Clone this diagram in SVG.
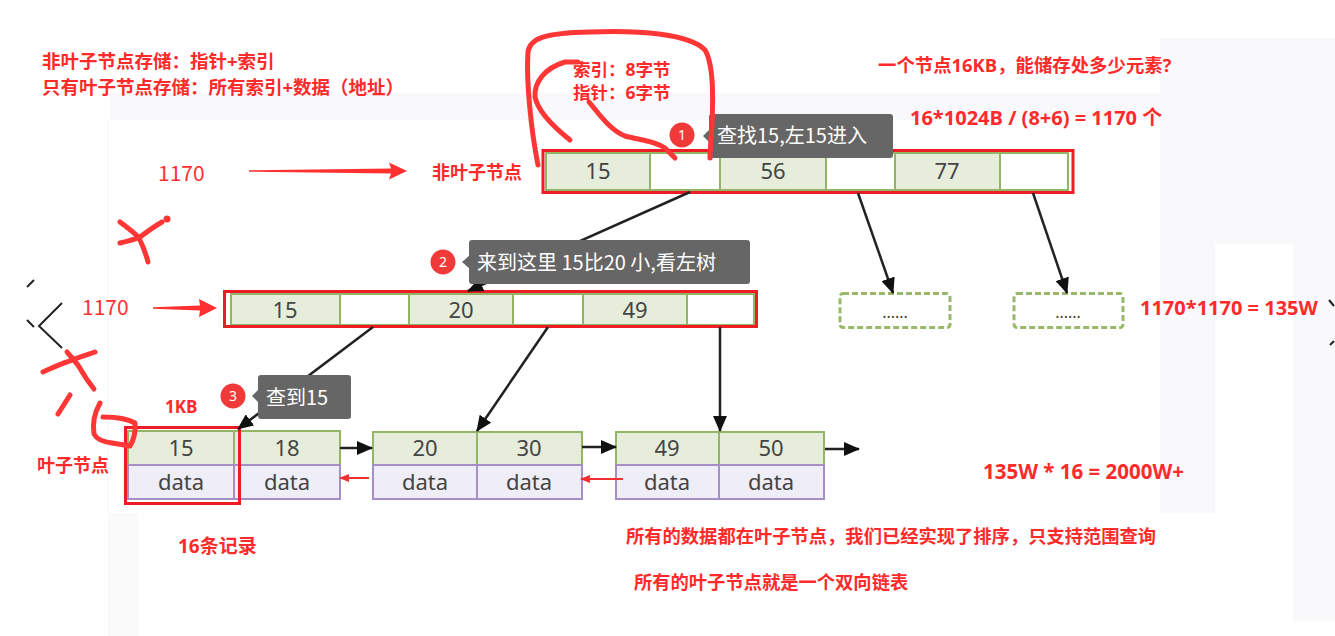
<svg xmlns="http://www.w3.org/2000/svg" width="1335" height="636" viewBox="0 0 1335 636">
  <defs>
    <style>
      .note { font-family: "Open Sans", "Noto Sans CJK SC", sans-serif; font-weight: bold; fill: #ff2a2a; font-size: 19px; }
      .num { font-family: "Noto Sans CJK SC", "Liberation Sans", sans-serif; fill: #ff3030; font-size: 21px; }
      .cell-key { fill: #e7eddb; stroke: #94b566; stroke-width: 2; }
      .cell-ptr { fill: #ffffff; stroke: #94b566; stroke-width: 2; }
      .cell-data { fill: #efedf5; stroke: #a58fc6; stroke-width: 2; }
      .frame { fill: none; stroke: #ee1c24; stroke-width: 3; }
      .val { font-family: "Noto Sans", "DejaVu Sans", sans-serif; fill: #444; font-size: 22px; text-anchor: middle; }
      .tip { fill: #666666; }
      .tip-text { font-family: "Noto Sans CJK SC", "Noto Sans", sans-serif; fill: #ffffff; font-size: 20px; }
      .badge { fill: #f03a3a; }
      .badge-text { font-family: "Noto Sans", "DejaVu Sans", sans-serif; fill: #fff; font-size: 14px; text-anchor: middle; }
      .edge { stroke: #222; stroke-width: 2.5; fill: none; marker-end: url(#head); }
      .back { stroke: #f03030; stroke-width: 2; fill: none; marker-end: url(#redhead); }
      .scribble { fill: none; stroke: #ff3636; stroke-width: 5; stroke-linecap: round; stroke-linejoin: round; }
      .dashed { fill: #fff; stroke: #9ab86a; stroke-width: 3; stroke-dasharray: 6 3; }
    </style>
    <marker id="head" markerUnits="userSpaceOnUse" markerWidth="16" markerHeight="14" refX="15" refY="7" orient="auto">
      <path d="M0,0 L16,7 L0,14 Z" fill="#111"/>
    </marker>
    <marker id="redhead" markerUnits="userSpaceOnUse" markerWidth="10" markerHeight="8" refX="9" refY="4" orient="auto">
      <path d="M0,0 L10,4 L0,8 Z" fill="#f03030"/>
    </marker>
  </defs>

  <!-- page background with faint panels -->
  <rect x="0" y="0" width="1335" height="636" fill="#ffffff"/>
  <rect x="110" y="93" width="1050" height="27" fill="#f9f9fb"/>
  <path d="M1160,38 H1335 V621 H1293 V244 H1215 V513 H1160 Z" fill="#f9f9fb"/>
  <rect x="108" y="513" width="30" height="123" fill="#fafafb"/>
  <line x1="108" y1="120" x2="108" y2="513" stroke="#f6f6f8" stroke-width="1"/>

  <!-- edge fragments -->
  <g stroke="#222" stroke-width="2" fill="none">
    <path d="M62,303 L39,326 L62,348"/>
    <path d="M27,287 L34,280"/>
    <path d="M27,320 L34,327"/>
    <path d="M1329,300 L1334,306"/>
    <path d="M1334,341 L1330,345"/>
  </g>

  <!-- notes -->
  <g id="notes">
    <text class="note" x="42" y="68" style="font-size:18.5px">非叶子节点存储：指针+索引</text>
    <text class="note" x="42" y="94" style="font-size:18.5px">只有叶子节点存储：所有索引+数据（地址）</text>
    <text class="note" x="573" y="76" style="font-size:17.5px">索引：8字节</text>
    <text class="note" x="573" y="99" style="font-size:17.5px">指针：6字节</text>
    <text class="note" x="878" y="72" style="font-size:18.4px">一个节点16KB，能储存处多少元素?</text>
    <text class="note" x="910" y="125" style="font-size:20px">16*1024B / (8+6) = 1170 个</text>
    <text class="note" x="432" y="179" style="font-size:18px">非叶子节点</text>
    <text class="note" x="1140" y="315" style="font-size:20px">1170*1170 = 135W</text>
    <text class="note" x="165" y="413" style="font-size:17px">1KB</text>
    <text class="note" x="37" y="472" style="font-size:18px">叶子节点</text>
    <text class="note" x="983" y="479" style="font-size:20.5px">135W * 16 = 2000W+</text>
    <text class="note" x="178" y="553">16条记录</text>
    <text class="note" x="626" y="543" style="font-size:18.3px">所有的数据都在叶子节点，我们已经实现了排序，只支持范围查询</text>
    <text class="note" x="634" y="589" style="font-size:18.3px">所有的叶子节点就是一个双向链表</text>
    <text class="num" x="158" y="181">1170</text>
    <text class="num" x="82" y="315">1170</text>
  </g>

  <!-- red pointer arrows -->
  <g id="red-arrows" fill="#ff3030">
    <polygon points="249,170.3 391,168.5 389,162.5 407,171 389,179.5 391,173.5 249,171.7"/>
    <polygon points="153,307.3 200,305.5 199,299 217,308 199,317 200,310.5 153,308.7"/>
  </g>

  <!-- root node -->
  <g id="root">
    <rect class="cell-key" x="546" y="153" width="104" height="37"/>
    <rect class="cell-ptr" x="650" y="153" width="70" height="37"/>
    <rect class="cell-key" x="720" y="153" width="106" height="37"/>
    <rect class="cell-ptr" x="826" y="153" width="69" height="37"/>
    <rect class="cell-key" x="895" y="153" width="105" height="37"/>
    <rect class="cell-ptr" x="1000" y="153" width="68" height="37"/>
    <rect class="frame" x="543" y="150.5" width="530" height="42"/>
    <text class="val" x="598" y="179">15</text>
    <text class="val" x="773" y="179">56</text>
    <text class="val" x="947" y="179">77</text>
  </g>

  <!-- second level node -->
  <g id="inner">
    <rect class="cell-key" x="231" y="294" width="109" height="31"/>
    <rect class="cell-ptr" x="340" y="294" width="69" height="31"/>
    <rect class="cell-key" x="409" y="294" width="104" height="31"/>
    <rect class="cell-ptr" x="513" y="294" width="70" height="31"/>
    <rect class="cell-key" x="583" y="294" width="104" height="31"/>
    <rect class="cell-ptr" x="687" y="294" width="67" height="31"/>
    <rect class="frame" x="224.5" y="291.5" width="532" height="35"/>
    <text class="val" x="285" y="318">15</text>
    <text class="val" x="461" y="318">20</text>
    <text class="val" x="635" y="318">49</text>
  </g>

  <!-- unexpanded siblings -->
  <g id="more-1">
    <rect class="dashed" x="840" y="293.5" width="110" height="34" rx="3"/>
    <text class="val" x="895" y="318" style="font-size:16px">......</text>
  </g>
  <g id="more-2">
    <rect class="dashed" x="1014" y="293.5" width="109" height="34" rx="3"/>
    <text class="val" x="1068" y="318" style="font-size:16px">......</text>
  </g>

  <!-- leaves -->
  <g id="leaf-1">
    <rect class="cell-key" x="128" y="431" width="106" height="34"/>
    <rect class="cell-key" x="234" y="431" width="106" height="34"/>
    <rect class="cell-data" x="128" y="465" width="106" height="34"/>
    <rect class="cell-data" x="234" y="465" width="106" height="34"/>
    <text class="val" x="181" y="456">15</text>
    <text class="val" x="287" y="456">18</text>
    <text class="val" x="181" y="490">data</text>
    <text class="val" x="287" y="490">data</text>
    <rect class="frame" x="125.5" y="427.5" width="114" height="76"/>
  </g>
  <g id="leaf-2">
    <rect class="cell-key" x="373" y="432" width="104" height="33"/>
    <rect class="cell-key" x="477" y="432" width="105" height="33"/>
    <rect class="cell-data" x="373" y="465" width="104" height="34"/>
    <rect class="cell-data" x="477" y="465" width="105" height="34"/>
    <text class="val" x="425" y="456">20</text>
    <text class="val" x="529" y="456">30</text>
    <text class="val" x="425" y="490">data</text>
    <text class="val" x="529" y="490">data</text>
  </g>
  <g id="leaf-3">
    <rect class="cell-key" x="616" y="432" width="103" height="33"/>
    <rect class="cell-key" x="719" y="432" width="105" height="33"/>
    <rect class="cell-data" x="616" y="465" width="103" height="34"/>
    <rect class="cell-data" x="719" y="465" width="105" height="34"/>
    <text class="val" x="667" y="456">49</text>
    <text class="val" x="771" y="456">50</text>
    <text class="val" x="667" y="490">data</text>
    <text class="val" x="771" y="490">data</text>
  </g>

  <!-- connectors -->
  <g id="connectors">
    <line class="edge" x1="690" y1="192" x2="468" y2="291"/>
    <line class="edge" x1="858" y1="193" x2="893" y2="293"/>
    <line class="edge" x1="1033" y1="193" x2="1067" y2="293"/>
    <line class="edge" x1="373" y1="327" x2="238" y2="429"/>
    <line class="edge" x1="548" y1="327" x2="477" y2="431"/>
    <line class="edge" x1="720" y1="327" x2="720" y2="431"/>
    <line class="edge" x1="340" y1="448" x2="372" y2="448"/>
    <line class="edge" x1="582" y1="447" x2="616" y2="447"/>
    <line class="edge" x1="825" y1="449" x2="859" y2="449"/>
    <line class="back" x1="369" y1="478" x2="340" y2="478"/>
    <line class="back" x1="623" y1="479" x2="581" y2="479"/>
  </g>

  <!-- step callouts -->
  <g id="step-1">
    <rect class="tip" x="709" y="114" width="184" height="44" rx="3"/>
    <polygon class="tip" points="703,136 710,129 710,143"/>
    <text class="tip-text" x="717" y="143">查找15,左15进入</text>
    <circle class="badge" cx="682" cy="135" r="12.5"/>
    <text class="badge-text" x="682" y="140">1</text>
  </g>
  <g id="step-2">
    <rect class="tip" x="469" y="240" width="281" height="44" rx="3"/>
    <polygon class="tip" points="462,262 470,255 470,269"/>
    <text class="tip-text" x="477" y="270">来到这里 15比20 小,看左树</text>
    <circle class="badge" cx="443" cy="262" r="12.5"/>
    <text class="badge-text" x="443" y="267">2</text>
  </g>
  <g id="step-3">
    <rect class="tip" x="258" y="375" width="93" height="44" rx="3"/>
    <polygon class="tip" points="252,396 259,389 259,403"/>
    <text class="tip-text" x="266" y="405">查到15</text>
    <circle class="badge" cx="233" cy="396" r="12.5"/>
    <text class="badge-text" x="233" y="401">3</text>
  </g>

  <!-- hand-drawn marks -->
  <g id="marks">
    <path class="scribble" d="M538,165 C531,130 526,80 528,52 C530,38 545,33 590,32 C640,30 690,34 705,50 C714,65 713,100 712,125 C711,140 710,150 710,158"/>
    <path class="scribble" d="M570,140 C555,128 538,112 535,97 C534,82 545,68 565,62 L578,62"/>
    <path class="scribble" d="M589,102 C600,115 610,130 625,136 C640,140 655,141 665,148 L675,158"/>
    <path class="scribble" d="M120,222 C128,228 136,234 139,238 C143,246 146,254 148,262"/>
    <path class="scribble" d="M120,243 C127,241 134,240 140,237 C148,231 155,226 162,222"/>
    <circle cx="167" cy="219" r="3.5" fill="#ff3636"/>
    <path class="scribble" d="M43,372 C52,368 60,364 67,362 C76,358 86,355 95,352"/>
    <path class="scribble" d="M67,352 C72,358 78,364 81,370 C85,377 90,384 94,389"/>
    <path class="scribble" d="M58,414 L70,395"/>
    <path class="scribble" d="M100,403 C95,412 92,422 94,434 C97,440 104,442 112,443 L130,446 C134,440 136,430 135,423 C128,419 115,417 103,417"/>
  </g>
</svg>
